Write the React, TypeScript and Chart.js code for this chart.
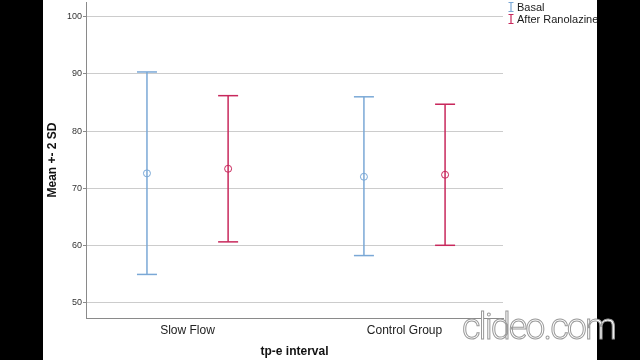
import React, { useEffect, useRef } from "react";
import { Chart, registerables } from "chart.js";

Chart.register(...registerables);

const categories = ["Slow Flow", "Control Group"];
const seriesNames = ["Basal", "After Ranolazine"];
const seriesColors = ["#7aa8d6", "#c8285c"];
const basalMean = [72.6, 72.0];
const basalLow = [54.9, 58.2];
const basalHigh = [90.35, 86.0];
const afterMean = [73.4, 72.35];
const afterLow = [60.6, 60.0];
const afterHigh = [86.2, 84.7];
const yTicks = [50, 60, 70, 80, 90, 100];
const groupOffset = 0.187;

const FONT = "'Liberation Sans', Arial, sans-serif";

function buildDatasets() {
  const series = [
    { mean: basalMean, low: basalLow, high: basalHigh, off: -groupOffset },
    { mean: afterMean, low: afterLow, high: afterHigh, off: groupOffset },
  ];
  const ds: any[] = [];
  series.forEach((s, si) => {
    const color = seriesColors[si];
    categories.forEach((_, ci) => {
      const x = ci + 1 + s.off;
      ds.push({
        type: "line",
        label: seriesNames[si] + " range",
        data: [
          { x, y: s.low[ci] },
          { x, y: s.high[ci] },
        ],
        borderColor: color,
        borderWidth: 1.5,
        showLine: true,
        pointStyle: "line",
        pointRadius: 10,
        pointBorderColor: color,
        pointBorderWidth: 1.5,
        pointHoverRadius: 10,
      });
    });
    ds.push({
      type: "scatter",
      label: seriesNames[si],
      data: categories.map((_, ci) => ({ x: ci + 1 + s.off, y: s.mean[ci] })),
      pointStyle: "circle",
      pointRadius: 3.5,
      backgroundColor: "rgba(255,255,255,0)",
      borderColor: color,
      borderWidth: 1,
    });
  });
  return ds;
}

const iLegend = {
  id: "iLegend",
  afterDraw(chart: any) {
    const ctx = chart.ctx;
    const x0 = chart.chartArea.right + 8;
    ctx.save();
    seriesNames.forEach((name, i) => {
      const y = 7 + i * 12;
      ctx.strokeStyle = seriesColors[i];
      ctx.lineWidth = 1.2;
      ctx.beginPath();
      ctx.moveTo(x0, y - 4.5);
      ctx.lineTo(x0, y + 4.5);
      ctx.moveTo(x0 - 2.5, y - 4.5);
      ctx.lineTo(x0 + 2.5, y - 4.5);
      ctx.moveTo(x0 - 2.5, y + 4.5);
      ctx.lineTo(x0 + 2.5, y + 4.5);
      ctx.stroke();
      ctx.fillStyle = "#1a1a1a";
      ctx.font = "11px " + FONT;
      ctx.textBaseline = "middle";
      ctx.textAlign = "left";
      ctx.fillText(name, x0 + 6, y + 0.5);
    });
    ctx.restore();
  },
};

export default function App() {
  const ref = useRef<HTMLCanvasElement | null>(null);
  useEffect(() => {
    document.body.style.margin = "0";
    const canvas = ref.current;
    if (!canvas) return;
    const chart = new Chart(canvas, {
      type: "scatter",
      data: { datasets: buildDatasets() },
      options: {
        animation: false,
        responsive: true,
        maintainAspectRatio: false,
        layout: { autoPadding: false, padding: { top: 2, right: 94, left: 0, bottom: 0 } },
        plugins: {
          legend: { display: false },
          tooltip: { enabled: false },
        },
        scales: {
          x: {
            type: "linear",
            min: 0.532,
            max: 2.454,
            afterBuildTicks: (scale: any) => {
              scale.ticks = categories.map((_, i) => ({ value: i + 1 }));
            },
            afterFit: (scale: any) => {
              scale.height = 42;
              scale.paddingLeft = 0;
              scale.paddingRight = 0;
            },
            grid: { display: true, drawOnChartArea: false, drawTicks: false },
            border: { display: true, color: "#8a8a8a", width: 1 },
            ticks: {
              padding: 5,
              color: "#222",
              font: { family: FONT, size: 12 },
              callback: (v: any) => categories[Math.round(Number(v)) - 1] ?? "",
            },
            title: {
              display: true,
              text: "tp-e interval",
              color: "#111",
              font: { family: FONT, size: 12, weight: "bold" },
              padding: { top: 0, bottom: 1 },
            },
          },
          y: {
            min: 47.27,
            max: 102.6,
            afterBuildTicks: (scale: any) => {
              scale.ticks = yTicks.map((v) => ({ value: v }));
            },
            afterFit: (scale: any) => {
              scale.width = 43;
              scale.paddingTop = 0;
              scale.paddingBottom = 0;
            },
            grid: {
              color: "#cccccc",
              lineWidth: 1,
              tickColor: "#8a8a8a",
              tickLength: 3,
            },
            border: { display: true, color: "#8a8a8a", width: 1 },
            ticks: {
              padding: 1,
              color: "#333",
              font: { family: FONT, size: 9 },
            },
            title: {
              display: true,
              text: "Mean +- 2 SD",
              color: "#111",
              font: { family: FONT, size: 12, weight: "bold" },
              padding: { top: 2, bottom: 0 },
            },
          },
        },
      },
      plugins: [iLegend],
    } as any);
    return () => chart.destroy();
  }, []);

  return (
    <div style={{ position: "fixed", left: 0, top: 0, width: 640, height: 360, background: "#000", overflow: "hidden" }}>
      <div style={{ position: "absolute", left: 43, top: 0, width: 554, height: 360, background: "#fff" }}>
        <canvas ref={ref} />
      </div>
      <div
        style={{
          position: "absolute",
          left: 462,
          top: 309,
          fontFamily: "Roboto, sans-serif",
          fontWeight: 300,
          fontSize: 36,
          lineHeight: "36px",
          letterSpacing: -2,
          color: "#fff",
          WebkitTextStroke: "1px #9a9a9a",
          whiteSpace: "nowrap",
        }}
      >
        clideo.com
      </div>
    </div>
  );
}
